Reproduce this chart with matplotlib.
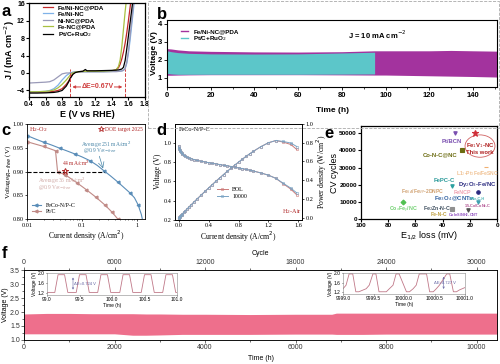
import matplotlib.pyplot as plt
from matplotlib.patches import Rectangle, Ellipse
from matplotlib.lines import Line2D

# ---------------- data ----------------
# panel a : LSV curves
E_a = [0.40, 0.50, 0.60, 0.65, 0.70, 0.75, 0.80, 0.85, 0.88, 0.90, 0.93, 0.96, 1.00,
       1.05, 1.08, 1.10, 1.20, 1.30, 1.40, 1.45, 1.48, 1.50, 1.52, 1.54, 1.56, 1.58,
       1.60, 1.62, 1.64, 1.66, 1.68]
J_feni_pda = [-4.4, -4.4, -4.35, -4.3, -4.2, -4.0, -3.6, -2.6, -1.8, -1.0, -0.2, 0.2, 0.3,
              0.35, 0.4, 0.4, 0.4, 0.45, 0.5, 0.7, 1.2, 2.0, 3.2, 4.8, 6.8, 9.2,
              12.0, 15.0, 18.0, 20.0, 20.0]
J_feni = [-4.3, -4.3, -4.2, -4.0, -3.6, -2.8, -1.6, -0.6, -0.2, 0.0, 0.2, 0.3, 0.3,
          0.3, 0.3, 0.3, 0.3, 0.3, 0.35, 0.4, 0.4, 0.45, 0.5, 0.6, 1.0, 2.2,
          4.5, 7.5, 11.0, 14.5, 18.0]
J_ni_pda = [-2.3, -2.2, -2.1, -2.0, -1.6, -0.9, -0.2, 0.0, 0.0, 0.05, 0.1, 0.2, 0.25,
            0.25, 0.25, 0.25, 0.25, 0.25, 0.3, 0.3, 0.35, 0.4, 0.45, 0.6, 1.0, 2.5,
            5.0, 8.5, 12.0, 15.5, 19.0]
J_fe_pda = [-4.3, -4.3, -4.2, -4.1, -3.9, -3.4, -2.6, -1.6, -0.9, -0.4, 0.0, 0.2, 0.3,
            0.35, 0.4, 0.4, 0.4, 0.45, 0.55, 0.7, 1.5, 3.0, 6.0, 10.0, 14.0, 17.5,
            19.0, 20.0, 20.0, 20.0, 20.0]
J_ptc = [-4.6, -4.6, -4.55, -4.5, -4.45, -4.3, -4.0, -3.0, -2.0, -1.2, -0.3, 0.1, 0.3,
         0.4, 0.8, 0.5, 0.5, 0.55, 0.6, 0.65, 0.7, 0.8, 0.9, 1.3, 2.8, 5.5,
         8.5, 11.5, 14.5, 17.5, 20.0]

# panel b : discharge/charge cycling envelopes
t_feni = [0, 2, 5, 10, 20, 40, 60, 80, 95, 100, 110, 120, 130, 140, 151]
up_feni = [2.62, 2.6, 2.55, 2.5, 2.47, 2.44, 2.43, 2.45, 2.5, 2.5, 2.5, 2.5, 2.52, 2.5, 2.48]
lo_feni = [1.15, 1.15, 1.16, 1.17, 1.18, 1.18, 1.18, 1.17, 1.16, 1.16, 1.14, 1.12, 1.1, 1.08, 1.05]
t_ptc = [0, 2, 5, 10, 20, 40, 60, 80, 95]
up_ptc = [2.5, 2.45, 2.4, 2.36, 2.33, 2.32, 2.33, 2.38, 2.42]
lo_ptc = [1.25, 1.22, 1.2, 1.2, 1.2, 1.2, 1.2, 1.21, 1.22]

# panel c : iR-free polarization (H2-O2)
i_feco = [0.01, 0.014, 0.02, 0.028, 0.04, 0.055, 0.075, 0.1, 0.14, 0.19, 0.25, 0.33,
          0.45, 0.6, 0.75, 0.9, 1.05, 1.2, 1.28]
v_feco = [0.976, 0.969, 0.962, 0.956, 0.949, 0.943, 0.937, 0.931, 0.923, 0.913, 0.902,
          0.891, 0.878, 0.865, 0.855, 0.845, 0.83, 0.81, 0.795]
i_ptc = [0.01, 0.02, 0.033, 0.036, 0.05, 0.08, 0.12, 0.18, 0.26, 0.35, 0.45]
v_ptc = [0.963, 0.953, 0.944, 0.900, 0.893, 0.877, 0.862, 0.846, 0.83, 0.815, 0.80]

# panel d : H2-air polarization / power density
i_d = [0.0, 0.005, 0.01, 0.015, 0.02, 0.03, 0.04, 0.05, 0.07, 0.09, 0.11, 0.14, 0.17, 0.2,
       0.25, 0.3, 0.35, 0.4, 0.45, 0.5, 0.55, 0.6, 0.65, 0.7, 0.75, 0.8, 0.85, 0.9,
       0.95, 1.0, 1.1, 1.2, 1.3, 1.4, 1.5, 1.58]
v_bol = [0.97, 0.95, 0.94, 0.93, 0.92, 0.905, 0.895, 0.885, 0.872, 0.862, 0.853, 0.843, 0.835,
         0.828, 0.818, 0.81, 0.802, 0.795, 0.788, 0.782, 0.775, 0.768, 0.762, 0.755, 0.748,
         0.74, 0.733, 0.725, 0.717, 0.708, 0.688, 0.665, 0.632, 0.575, 0.52, 0.46]
v_10k = [0.965, 0.95, 0.94, 0.93, 0.92, 0.905, 0.895, 0.885, 0.872, 0.862, 0.853, 0.843, 0.835,
         0.828, 0.818, 0.81, 0.802, 0.795, 0.788, 0.782, 0.775, 0.768, 0.762, 0.755, 0.748,
         0.74, 0.733, 0.725, 0.717, 0.708, 0.688, 0.665, 0.632, 0.58, 0.53, 0.48]
p_bol = [0.0, 0.005, 0.009, 0.014, 0.018, 0.027, 0.036, 0.044, 0.061, 0.078, 0.094, 0.118,
         0.142, 0.166, 0.205, 0.243, 0.281, 0.318, 0.355, 0.391, 0.426, 0.461, 0.495, 0.529,
         0.561, 0.592, 0.623, 0.653, 0.681, 0.708, 0.757, 0.798, 0.822, 0.805, 0.78, 0.727]
p_10k = [0.0, 0.005, 0.009, 0.014, 0.018, 0.027, 0.036, 0.044, 0.061, 0.078, 0.094, 0.118,
         0.142, 0.166, 0.205, 0.243, 0.281, 0.318, 0.355, 0.391, 0.426, 0.461, 0.495, 0.529,
         0.561, 0.592, 0.623, 0.653, 0.681, 0.708, 0.757, 0.798, 0.822, 0.812, 0.795, 0.758]

# panel e : stability comparison (markers, then labels)
e_loss = [16, 31, 25.5, 8, 33, 14, 69, 14, 33, 21]
e_cycles = [50000, 50000, 40000, 30500, 19500, 15500, 10000, 9800, 6000, 5200]
e_colors = ['#d0303a', '#7a4fb0', '#6b6b10', '#f0b070', '#2aa0a0', '#2a2a80', '#50c050',
            '#40a0b0', '#909090', '#505050']
e_markers = ['*', 'v', 's', '_', 'v', 'o', 'D', 'v', 's', 'v']
e_labels = ['Fe$_1$V$_1$-NC\nThis work', 'Pt/BCN', 'Co-N-C@NC', 'L1$_2$-Pt$_3$Fe/FeSNC',
            'FePC-C', 'Dy$_2$O$_3$-Fe/NC', 'Fe$_{SA}$/Fe$_{NP}$-2DNPC', 'FeNCP',
            'Fe$_3$O$_4$@CNTs', 'HNe-C-H', 'Co$_x$Fe$_y$/NC', 'Fe$_2$Zn-N-C', 'Fe-N-C',
            '15-Co/CoN$_x$-C', 'CoInS/NH$_2$-CNT']
lab_x = [12.5, 33, 41.5, 14.5, 38.5, 14.5, 55, 25.5, 32, 14.5, 69, 44, 43, 14.5, 25]
lab_y = [41500, 45400, 37400, 26500, 22400, 20000, 16100, 15500, 12000, 12000, 5200, 6000,
         2500, 7300, 2000]
lab_c = ['#b02020', '#7a4fb0', '#6b6b10', '#f0c090', '#2a9a9a', '#2a2a80', '#d0a070',
         '#f0a0b0', '#3060a0', '#40b0b0', '#70d070', '#405060', '#c0a040', '#b05090',
         '#9050c0']
lab_s = [4.2, 4.2, 4.2, 3.6, 4.2, 4.2, 3.6, 3.8, 4.2, 2.6, 3.8, 3.8, 3.6, 2.8, 2.8]

# panel f : long-term cycling
t_f = [0, 500, 1000, 1500, 2000, 2400, 2700, 3000, 3500, 4000, 5000, 6000, 6800, 6900,
       7500, 8000, 9000, 10000, 10450]
up_f = [1.93, 1.95, 1.95, 1.94, 1.94, 1.94, 1.93, 1.93, 1.92, 1.92, 1.91, 1.92, 1.92, 1.96,
        1.96, 1.96, 1.96, 1.96, 1.96]
lo_f = [1.22, 1.22, 1.22, 1.22, 1.22, 1.17, 1.17, 1.18, 1.2, 1.2, 1.2, 1.21, 1.21, 1.2,
        1.2, 1.21, 1.21, 1.21, 1.21]
t_in1 = [99.0, 99.12, 99.17, 99.27, 99.32, 99.45, 99.50, 99.60, 99.65, 99.78, 99.83, 99.93,
         99.98, 100.12, 100.17, 100.27, 100.32, 100.45, 100.50, 100.60, 100.65, 100.78,
         100.83, 100.93, 100.98, 101.0]
v_in1 = [1.22, 1.22, 1.95, 1.95, 1.22, 1.22, 1.95, 1.95, 1.22, 1.22, 1.95, 1.95, 1.22, 1.22,
         1.95, 1.95, 1.22, 1.22, 1.95, 1.95, 1.22, 1.22, 1.95, 1.95, 1.22, 1.22]
t_in2 = [9999.0, 9999.05, 9999.10, 9999.16, 9999.21, 9999.26, 9999.38, 9999.43, 9999.49,
         9999.54, 9999.59, 9999.71, 9999.76, 9999.82, 9999.87, 9999.92, 10000.04, 10000.09,
         10000.15, 10000.2, 10000.25, 10000.37, 10000.42, 10000.48, 10000.53, 10000.58,
         10000.7, 10000.75, 10000.81, 10000.86, 10000.91, 10001.0]
v_in2 = [1.35, 1.5, 1.98, 1.98, 1.22, 1.22, 1.35, 1.5, 1.98, 1.98, 1.22, 1.22, 1.35, 1.5,
         1.98, 1.98, 1.22, 1.22, 1.35, 1.5, 1.98, 1.98, 1.22, 1.22, 1.35, 1.5, 1.98, 1.98,
         1.22, 1.22, 1.3, 1.4]

# ---------------- figure ----------------
fig = plt.figure(figsize=(5.0, 3.64), dpi=100)
sans = ['Liberation Sans', 'DejaVu Sans']
serif = ['Liberation Serif', 'DejaVu Serif']
plt.rcParams['font.family'] = sans
plt.rcParams['mathtext.fontset'] = 'dejavusans'

# panel a
ax = fig.add_axes([0.058, 0.7335, 0.232, 0.258])
ax.plot(E_a, J_feni_pda, color='#c0282a', lw=0.9, label='Fe/Ni-NC@PDA')
ax.plot(E_a, J_feni, color='#7fb2e8', lw=0.9, label='Fe/Ni-NC')
ax.plot(E_a, J_ni_pda, color='#9a9ab8', lw=0.9, label='Ni-NC@PDA')
ax.plot(E_a, J_fe_pda, color='#a8c040', lw=0.9, label='Fe-NC@PDA')
ax.plot(E_a, J_ptc, color='black', lw=0.9, label='Pt/C+RuO$_2$')
ax.axvline(0.89, ymin=0, ymax=0.3, color='#d04040', ls='--', lw=0.7)
ax.axvline(1.56, ymin=0, ymax=0.3, color='#d04040', ls='--', lw=0.7)
ax.annotate('', xy=(0.89, -3.2), xytext=(1.56, -3.2),
            arrowprops=dict(arrowstyle='<|-|>', color='#d04040', lw=0.7, mutation_scale=4))
ax.text(1.225, -3.2, 'ΔE=0.67V', color='#d04040', fontsize=5, fontweight='bold',
        ha='center', va='center', bbox=dict(fc='white', ec='none', pad=0.2))
ax.set_xlim(0.4, 1.8)
ax.set_ylim(-5.5, 16)
ax.set_xticks([0.4, 0.6, 0.8, 1.0, 1.2, 1.4, 1.6, 1.8])
ax.set_yticks([-4, 0, 4, 8, 12, 16])
ax.tick_params(labelsize=5, length=2, width=0.8, pad=1)
for lb in ax.get_xticklabels() + ax.get_yticklabels():
    lb.set_fontweight('bold')
ax.set_xlabel('E (V vs RHE)', fontsize=6.5, fontweight='bold', labelpad=1)
ax.set_ylabel('J / (mA cm$^{-2}$)', fontsize=6.5, fontweight='bold', labelpad=0)
ax.legend(loc='upper left', bbox_to_anchor=(0.08, 1.03), frameon=False,
          handlelength=1.6, labelspacing=0.15, borderpad=0.2, prop={'weight': 'bold', 'size': 4.6})
for s in ax.spines.values():
    s.set_linewidth(0.9)
fig.text(0.004, 0.955, 'a', fontsize=12, fontweight='bold')

# panel b
fig.patches.append(Rectangle((148 / 500, 1 - 128 / 364), 351 / 500, 127 / 364,
                             transform=fig.transFigure, fill=False, ec='#aaaaaa',
                             ls='--', lw=0.6))
ax = fig.add_axes([0.334, 0.761, 0.66, 0.184])
ax.fill_between(t_feni, lo_feni, up_feni, color='#a3339e', lw=0)
ax.fill_between(t_ptc, lo_ptc, up_ptc, color='#5cc6c9', lw=0)
ax.set_xlim(0, 151)
ax.set_ylim(0.5, 4.2)
ax.set_yticks([1, 2, 3, 4])
ax.set_xticks([0, 20, 40, 60, 80, 100, 120, 140])
ax.set_xticks(range(10, 151, 20), minor=True)
ax.tick_params(labelsize=5.5, length=2, width=0.6, pad=1.5)
ax.tick_params(which='minor', length=1.2, width=0.5)
for lb in ax.get_xticklabels() + ax.get_yticklabels():
    lb.set_fontweight('bold')
ax.set_xlabel('Time (h)', fontsize=6, fontweight='bold', labelpad=6)
ax.set_ylabel('Voltage (V)', fontsize=6, fontweight='bold', labelpad=0)
hb = [Line2D([], [], color='#a3339e', lw=1), Line2D([], [], color='#5cc6c9', lw=1)]
ax.legend(hb, ['Fe/Ni-NC@PDA', 'Pt/C+RuO$_2$'], loc='upper left', bbox_to_anchor=(0.03, 0.93),
          frameon=False, handlelength=1.2, labelspacing=0.1, borderpad=0.1,
          prop={'weight': 'bold', 'size': 4.5})
ax.text(0.55, 0.72, 'J = 10 mA cm$^{-2}$', transform=ax.transAxes, fontsize=5.5,
        fontweight='bold')
fig.text(0.313, 0.948, 'b', fontsize=12, fontweight='bold')

# panel c
ax = fig.add_axes([0.054, 0.398, 0.236, 0.261])
ax.set_xscale('log')
ax.plot(i_feco, v_feco, color='#5a8db8', lw=0.8, marker='<', ms=2, markevery=2,
        label='FeCo-N/P-C')
ax.plot(i_ptc, v_ptc, color='#c08a86', lw=0.8, marker='<', ms=2, label='Pt/C')
ax.plot([0.01, 0.25], [0.9, 0.9], color='black', ls='--', lw=0.8)
ax.plot([0.05], [0.901], marker='*', ms=5, mfc='none', mec='#b02828', mew=0.7)
ax.set_xlim(0.01, 1.4)
ax.set_ylim(0.80, 1.00)
ax.set_yticks([0.80, 0.85, 0.90, 0.95, 1.00])
ax.set_yticklabels(['0.80', '0.85', '0.90', '0.95', '1.00'], family=serif)
ax.set_xticks([0.01, 0.1, 1])
ax.set_xticklabels(['0.01', '0.1', '1'], family=serif)
ax.tick_params(labelsize=4.5, length=1.5, width=0.5, pad=1)
ax.tick_params(which='minor', length=1, width=0.4)
ax.set_xlabel('Current density (A/cm$^2$)', fontsize=5.5, family=serif, labelpad=1)
ax.set_ylabel('Voltage$_{iR\\mathrm{-}free}$ (V)', fontsize=5, family=serif, labelpad=0)
ax.text(0.011, 0.985, 'H$_2$-O$_2$', color='#b02828', fontsize=4.5, family=serif)
ax.plot([0.22], [0.989], marker='*', ms=4, mfc='none', mec='#b02828', mew=0.6)
ax.text(0.26, 0.986, 'DOE target 2025', color='#b02828', fontsize=4, family=serif)
ax.text(0.095, 0.953, 'Average:251 mA/cm$^2$', color='#4a86a8', fontsize=4, family=serif)
ax.text(0.105, 0.941, '@0.9 V$_{iR\\mathrm{-}free}$', color='#4a86a8', fontsize=4,
        family=serif)
ax.annotate('', xy=(0.25, 0.901), xytext=(0.2, 0.938),
            arrowprops=dict(arrowstyle='->', color='#4a86a8', lw=0.5))
ax.text(0.044, 0.913, '44 mA/cm$^2$', color='#b02828', fontsize=4, family=serif)
ax.text(0.016, 0.876, 'Average:36 mA/cm$^2$', color='#d0a8a4', fontsize=4, family=serif)
ax.text(0.016, 0.864, '@0.9 V$_{iR\\mathrm{-}free}$', color='#d0a8a4', fontsize=4,
        family=serif)
ax.legend(loc='lower left', frameon=False, handlelength=1.6,
          labelspacing=0.2, borderpad=0.3, prop={'family': serif, 'size': 4.2})
for s in ax.spines.values():
    s.set_linewidth(0.6)
fig.text(0.003, 0.63, 'c', fontsize=12, fontweight='bold')

# panel d
ax = fig.add_axes([0.35, 0.396, 0.254, 0.264])
ax.plot(i_d, v_bol, color='#cc7a78', lw=0.7, marker='o', ms=1.8, mfc='none', mew=0.4,
        label='BOL')
ax.plot(i_d, v_10k, color='#7aa4c4', lw=0.7, marker='o', ms=1.8, mfc='none', mew=0.4,
        label='10000')
ax.set_xlim(-0.05, 1.65)
ax.set_ylim(0.2, 1.2)
ax.set_xticks([0.0, 0.4, 0.8, 1.2, 1.6])
ax.set_xticklabels(['0.0', '0.4', '0.8', '1.2', '1.6'], family=serif)
ax.set_yticks([0.2, 0.4, 0.6, 0.8, 1.0])
ax.set_yticklabels(['0.2', '0.4', '0.6', '0.8', '1.0'], family=serif)
ax.tick_params(labelsize=4.5, length=1.5, width=0.5, pad=1)
ax.set_xlabel('Current density (A/cm$^2$)', fontsize=5.5, family=serif, labelpad=1)
ax.set_ylabel('Voltage (V)', fontsize=5.5, family=serif, labelpad=1)
ax.text(0.0, 1.12, 'FeCo-N/P-C', fontsize=4.5, family=serif)
ax.text(1.38, 0.27, 'H$_2$-Air', color='#b02828', fontsize=4.5, family=serif)
ax.legend(loc='center', bbox_to_anchor=(0.45, 0.28), frameon=False,
          handlelength=1.8, labelspacing=0.2, prop={'family': serif, 'size': 4.2})
ax2 = ax.twinx()
ax2.plot(i_d, p_bol, color='#cc7a78', lw=0.7, marker='o', ms=1.8, mfc='none', mew=0.4)
ax2.plot(i_d, p_10k, color='#7aa4c4', lw=0.7, marker='o', ms=1.8, mfc='none', mew=0.4)
ax2.set_ylim(-0.02, 1.0)
ax2.set_yticks([0.0, 0.2, 0.4, 0.6, 0.8, 1.0])
ax2.set_yticklabels(['0.0', '0.2', '0.4', '0.6', '0.8', '1.0'], family=serif)
ax2.tick_params(labelsize=4.5, length=1.5, width=0.5, pad=1)
ax2.set_ylabel('Power density (W/cm$^2$)', fontsize=5.5, family=serif, labelpad=1)
for a_ in (ax, ax2):
    for s in a_.spines.values():
        s.set_linewidth(0.6)
fig.text(0.313, 0.63, 'd', fontsize=12, fontweight='bold')

# panel e
ax = fig.add_axes([0.722, 0.398, 0.272, 0.255])
for x, y, c, m in zip(e_loss, e_cycles, e_colors, e_markers):
    ax.plot([x], [y], marker=m, color=c, ms=2.5 if m != '*' else 4.5, mew=0.8, ls='none')
for x, y, t, c, s in zip(lab_x, lab_y, e_labels, lab_c, lab_s):
    ax.text(x, y, t, color=c, fontsize=s, fontweight='bold', ha='center', va='center',
            linespacing=1.0)
ax.add_patch(Ellipse((12.5, 42500), 22, 13000, fill=False, ec='#d06060', lw=0.6))
ax.set_xlim(100, 0)
ax.set_ylim(0, 54000)
ax.set_xticks([100, 80, 60, 40, 20, 0])
ax.set_yticks([0, 10000, 20000, 30000, 40000, 50000])
ax.tick_params(labelsize=4.6, length=2, width=0.8, pad=1)
for lb in ax.get_xticklabels() + ax.get_yticklabels():
    lb.set_fontweight('bold')
ax.set_xlabel('E$_{1/2}$ loss (mV)', fontsize=6.5, labelpad=1)
ax.set_ylabel('CV cycles', fontsize=6.5, labelpad=0)
for s in ax.spines.values():
    s.set_linewidth(0.9)
fig.text(0.648, 0.622, 'e', fontsize=12, fontweight='bold')

# panel f
ax = fig.add_axes([0.048, 0.066, 0.946, 0.192])
ax.fill_between(t_f, lo_f, up_f, color='#ee6f8c', lw=0)
ax.set_xlim(0, 10450)
ax.set_ylim(1.0, 3.5)
ax.set_yticks([1.0, 1.5, 2.0, 2.5, 3.0, 3.5])
ax.set_xticks([0, 2000, 4000, 6000, 8000, 10000])
ax.set_xticks(range(1000, 10450, 2000), minor=True)
ax.set_yticks([1.25, 1.75, 2.25, 2.75, 3.25], minor=True)
ax.tick_params(labelsize=5, length=2, width=0.5, pad=1, colors='#333333')
ax.tick_params(which='minor', length=1.2, width=0.4)
ax.set_xlabel('Time (h)', fontsize=5, labelpad=3)
ax.set_ylabel('Voltage (V)', fontsize=5, labelpad=1)
axt = ax.twiny()
axt.set_xlim(0, 10450 * 3)
axt.set_xticks([0, 6000, 12000, 18000, 24000, 30000])
axt.set_xticks(range(3000, 31350, 6000), minor=True)
axt.tick_params(labelsize=5, length=2, width=0.5, pad=1, colors='#333333')
axt.tick_params(which='minor', length=1.2, width=0.4)
axt.set_xlabel('Cycle', fontsize=5, labelpad=3)
for a_ in (ax, axt):
    for s in a_.spines.values():
        s.set_linewidth(0.5)
fig.text(0.004, 0.29, 'f', fontsize=12, fontweight='bold')

ai = fig.add_axes([0.094, 0.19, 0.26, 0.06])
ai.plot(t_in1, v_in1, color='#c07888', lw=0.6)
ai.set_xlim(99.0, 101.0)
ai.set_ylim(1.12, 2.02)
ai.set_xticks([99.0, 99.5, 100.0, 100.5, 101.0])
ai.set_yticks([1.2, 1.6, 2.0])
ai.tick_params(labelsize=3.5, length=1, width=0.4, pad=0.5)
ai.set_xlabel('Time (h)', fontsize=3.5, labelpad=0.5)
ai.set_ylabel('Voltage (V)', fontsize=3.5, labelpad=0.5)
ai.annotate('', xy=(99.4, 1.22), xytext=(99.4, 1.95),
            arrowprops=dict(arrowstyle='<->', color='#6060a0', lw=0.4, mutation_scale=3))
ai.text(99.42, 1.58, 'ΔE=0.724 V', fontsize=3, color='#6060a0', va='center')
for s in ai.spines.values():
    s.set_linewidth(0.4)
    s.set_color('#888888')

ai = fig.add_axes([0.686, 0.192, 0.244, 0.058])
ai.plot(t_in2, v_in2, color='#c07888', lw=0.6)
ai.set_xlim(9999.0, 10001.0)
ai.set_ylim(1.12, 2.02)
ai.set_xticks([9999.0, 9999.5, 10000.0, 10000.5, 10001.0])
ai.set_xticklabels(['9999.0', '9999.5', '10000.0', '10000.5', '10001.0'])
ai.set_yticks([1.2, 1.6, 2.0])
ai.tick_params(labelsize=3.5, length=1, width=0.4, pad=0.5)
ai.set_xlabel('Time (h)', fontsize=3.5, labelpad=0.5)
ai.set_ylabel('Voltage (V)', fontsize=3.5, labelpad=0.5)
ai.annotate('', xy=(10000.65, 1.22), xytext=(10000.65, 1.98),
            arrowprops=dict(arrowstyle='<->', color='#6060a0', lw=0.4, mutation_scale=3))
ai.text(10000.5, 1.58, 'ΔE=0.727 V', fontsize=3, color='#6060a0', va='center')
for s in ai.spines.values():
    s.set_linewidth(0.4)
    s.set_color('#888888')

fig.savefig('out.png', dpi=100)
